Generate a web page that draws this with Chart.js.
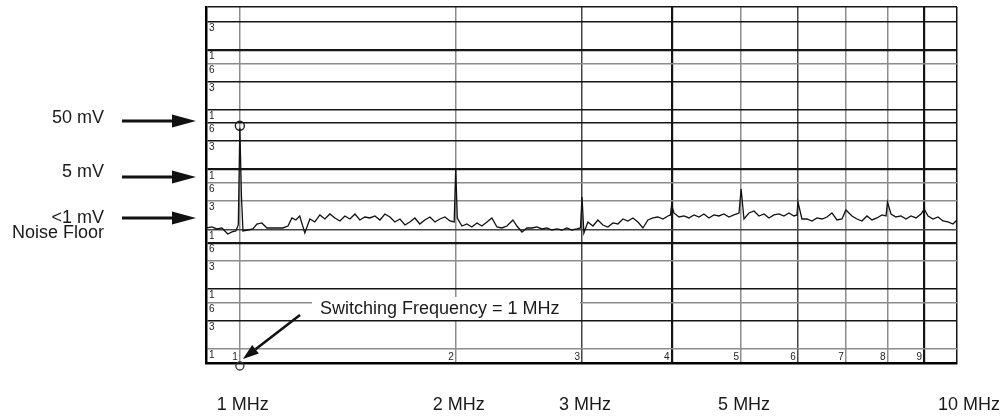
<!DOCTYPE html>
<html><head><meta charset="utf-8">
<script src="https://cdn.jsdelivr.net/npm/chart.js@4/dist/chart.umd.min.js"></script>
<style>html,body{margin:0;padding:0;background:#fff;}canvas{display:block;}</style>
</head><body>
<canvas id="c" width="1003" height="416"></canvas>
<script>
// ---- Data (frequency in MHz, amplitude in mV) ----
const freqMHz = [0.899,0.914,0.929,0.944,0.962,0.975,0.987,0.995,1.000,1.005,1.010,
1.026,1.043,1.056,1.073,1.091,1.108,1.130,1.148,1.167,1.182,1.197,1.212,1.232,1.252,1.272,1.293,1.314,1.335,1.357,1.379,1.401,1.424,1.447,1.470,1.494,1.518,1.543,1.568,1.593,1.619,1.645,1.672,1.699,1.726,1.754,1.782,1.811,1.841,1.871,1.901,1.932,1.963,1.990,
2.000,2.010,2.040,2.073,2.106,2.141,2.175,2.211,2.246,2.283,2.320,2.357,2.403,2.434,2.474,2.514,2.555,2.596,2.638,2.681,2.723,2.768,2.813,2.858,2.904,2.951,2.985,
3.000,3.018,3.057,3.107,3.157,3.208,3.260,3.313,3.367,3.421,3.476,3.533,3.590,3.648,3.707,3.767,3.828,3.890,3.953,3.985,
4.000,4.030,4.096,4.162,4.229,4.298,4.367,4.437,4.509,4.582,4.656,4.732,4.808,4.886,4.966,
5.000,5.046,5.128,5.211,5.295,5.381,5.468,5.556,5.646,5.737,5.830,5.924,5.982,
6.000,6.079,6.177,6.277,6.379,6.482,6.587,6.693,6.802,6.912,
7.000,7.137,7.253,7.370,7.489,7.611,7.734,7.859,7.961,
8.000,8.090,8.221,8.354,8.489,8.627,8.767,8.909,
9.000,9.112,9.259,9.408,9.561,9.714,9.872,10.0];

const amplitudeMV = [1.056,1.097,1.016,1.056,0.838,0.905,0.940,1.185,50,3.76,0.940,
0.977,1.016,1.231,1.280,1.056,1.056,1.056,1.056,1.140,1.552,1.437,1.676,0.871,1.493,1.330,1.742,1.493,1.810,1.552,1.382,1.676,1.493,1.810,1.437,1.612,1.552,1.676,1.437,1.810,1.612,1.330,1.493,1.185,1.330,1.552,1.231,1.437,1.612,1.330,1.493,1.612,1.382,1.330,
10.6,1.552,1.140,1.231,1.097,1.280,1.140,1.330,1.552,1.097,1.056,1.140,1.437,1.140,0.905,1.056,1.056,1.097,1.016,1.056,0.977,1.016,0.977,1.056,0.977,1.016,1.056,
3.48,0.871,1.330,1.140,1.437,1.185,1.097,1.280,1.231,1.493,1.382,1.552,1.330,1.056,1.437,1.552,1.612,1.493,1.676,1.742,
2.56,1.881,1.612,1.676,1.552,1.742,1.612,1.810,1.552,1.742,1.676,1.810,1.612,1.742,1.881,
4.74,1.493,1.881,2.031,1.676,1.810,1.552,1.742,1.810,1.676,1.881,1.676,1.742,
2.87,1.493,1.493,1.382,1.552,1.493,1.612,1.881,1.437,1.493,
2.11,1.676,1.493,1.382,1.676,1.437,1.552,1.742,1.676,
2.87,1.810,1.612,1.676,1.493,1.676,1.552,1.810,
2.19,1.676,1.493,1.612,1.382,1.330,1.231,1.437];

const markerFreqMHz = [1];
const markerMV = [54];

const xMinMHz = 0.897, xMaxMHz = 10;
const yMinMV = 0.00583, yMaxMV = 5236;

const xTickValues = [1,2,3,4,5,6,7,8,9];
const xTickLabels = ['1','2','3','4','5','6','7','8','9'];
const yTickValues = [3000,1000,600,300,100,60,30,10,6,3,1,0.6,0.3,0.1,0.06,0.03,0.01];
const yTickLabels = ['3','1','6','3','1','6','3','1','6','3','1','6','3','1','6','3','1'];

const freqLabelValues = [1,2,3,5,10];
const freqLabelTexts = ['1 MHz','2 MHz','3 MHz','5 MHz','10 MHz'];

const levelMV = [65, 7.5, 1.55];
const levelTexts = ['50 mV','5 mV','<1 mV'];
const noteText = 'Switching Frequency = 1 MHz';

// ---- styles (kept separate from data) ----
const yLineShade = ['k','K','g','k','k','k','k','K','g','g','d','K','g','k','g','k','g'];
const xLineShade = ['g','g','d','K','g','d','g','g','K'];
function shadeColor(s){ return s==='g' ? '#8c8c8c' : (s==='d' ? '#444' : '#151515'); }
function shadeWidth(s){ return s==='K' ? 2.2 : 1.5; }

function yStyleFor(v){
  const i = yTickValues.indexOf(v);
  return i < 0 ? 'k' : yLineShade[i];
}
function xStyleFor(v){
  const i = xTickValues.indexOf(v);
  return i < 0 ? 'k' : xLineShade[i];
}

function arrow(ctx,x0,y0,x1,y1,head,half,w){
  const ang = Math.atan2(y1-y0, x1-x0);
  const bx = x1 - head*Math.cos(ang), by = y1 - head*Math.sin(ang);
  ctx.lineWidth = w;
  ctx.beginPath(); ctx.moveTo(x0,y0); ctx.lineTo(bx,by); ctx.stroke();
  ctx.beginPath();
  ctx.moveTo(x1,y1);
  ctx.lineTo(bx + half*Math.sin(ang), by - half*Math.cos(ang));
  ctx.lineTo(bx - half*Math.sin(ang), by + half*Math.cos(ang));
  ctx.closePath(); ctx.fill();
}

const annotPlugin = {
  id: 'annot',
  afterDraw(chart){
    const {ctx, chartArea: a, scales: {x, y}} = chart;
    ctx.save();
    // small in-plot tick labels
    ctx.font = '10px "Liberation Sans", Arial, sans-serif';
    ctx.fillStyle = '#222';
    ctx.textAlign = 'left'; ctx.textBaseline = 'top';
    yTickValues.forEach((v,i) => ctx.fillText(yTickLabels[i], a.left + 3, y.getPixelForValue(v) + 1.5));
    ctx.textAlign = 'right'; ctx.textBaseline = 'bottom';
    xTickValues.forEach((v,i) => ctx.fillText(xTickLabels[i], x.getPixelForValue(v) - 2, a.bottom - 1));

    // bottom marker
    ctx.strokeStyle = '#333'; ctx.lineWidth = 1.3;
    ctx.beginPath(); ctx.arc(x.getPixelForValue(1), a.bottom + 3, 4, 0, Math.PI*2); ctx.stroke();

    // frequency labels below chart
    ctx.font = '18px "Liberation Sans", Arial, sans-serif';
    ctx.fillStyle = '#1a1a1a';
    ctx.textBaseline = 'middle';
    freqLabelValues.forEach((v,i) => {
      const px = x.getPixelForValue(v);
      if (i === freqLabelValues.length - 1) { ctx.textAlign = 'right'; ctx.fillText(freqLabelTexts[i], chart.width - 3, 405); }
      else { ctx.textAlign = 'center'; ctx.fillText(freqLabelTexts[i], px + 3, 405); }
    });

    // left level annotations
    ctx.textAlign = 'right';
    ctx.strokeStyle = '#111'; ctx.fillStyle = '#111';
    const textDy = [-2.5, -5, 0];
    levelMV.forEach((v,i) => {
      const py = y.getPixelForValue(v);
      ctx.fillStyle = '#1a1a1a';
      ctx.fillText(levelTexts[i], 104, py + textDy[i]);
      ctx.fillStyle = '#111';
      arrow(ctx, 122, py, a.left - 10, py, 24, 6.5, 3);
    });
    ctx.fillStyle = '#1a1a1a';
    ctx.fillText('Noise Floor', 104, y.getPixelForValue(levelMV[2]) + 15);

    // switching frequency note
    const tx = a.left + 114, ty = 309;
    ctx.fillStyle = '#fff';
    ctx.fillRect(tx - 8, ty - 12, 268, 23);
    ctx.fillStyle = '#1a1a1a';
    ctx.textAlign = 'left';
    ctx.fillText(noteText, tx, ty);
    ctx.fillStyle = '#111'; ctx.strokeStyle = '#111';
    arrow(ctx, tx - 20, ty + 6, x.getPixelForValue(1) + 3, a.bottom - 4, 16, 5.5, 2.6);
    ctx.restore();
  }
};

new Chart(document.getElementById('c'), {
  type: 'line',
  data: {
    datasets: [
      { data: freqMHz.map((f,i) => ({x: f, y: amplitudeMV[i]})),
        borderColor: '#111', borderWidth: 1.3, pointRadius: 0, tension: 0, fill: false },
      { data: markerFreqMHz.map((f,i) => ({x: f, y: markerMV[i]})),
        showLine: false, pointRadius: 4.5, pointStyle: 'circle',
        borderColor: '#222', borderWidth: 1.4, backgroundColor: 'rgba(0,0,0,0)' }
    ]
  },
  options: {
    responsive: false, animation: false, devicePixelRatio: 1,
    layout: { padding: { left: 206, right: 46, top: 7, bottom: 53 } },
    plugins: { legend: { display: false }, tooltip: { enabled: false } },
    scales: {
      x: {
        type: 'logarithmic', min: xMinMHz, max: xMaxMHz,
        afterBuildTicks: s => { s.ticks = xTickValues.concat([xMaxMHz]).map(v => ({value: v})); },
        afterFit: s => { s.height = 0; },
        ticks: { display: false },
        grid: { drawTicks: false,
          color: c => shadeColor(c.tick ? xStyleFor(c.tick.value) : 'k'),
          lineWidth: c => shadeWidth(c.tick ? xStyleFor(c.tick.value) : 'k') },
        border: { display: true, color: '#000', width: 2.5 }
      },
      y: {
        type: 'logarithmic', min: yMinMV, max: yMaxMV,
        afterBuildTicks: s => { s.ticks = [yMaxMV].concat(yTickValues).map(v => ({value: v})); },
        afterFit: s => { s.width = 0; },
        ticks: { display: false },
        grid: { drawTicks: false,
          color: c => shadeColor(c.tick ? yStyleFor(c.tick.value) : 'k'),
          lineWidth: c => shadeWidth(c.tick ? yStyleFor(c.tick.value) : 'k') },
        border: { display: true, color: '#000', width: 2.5 }
      }
    }
  },
  plugins: [annotPlugin]
});
</script>
</body></html>
